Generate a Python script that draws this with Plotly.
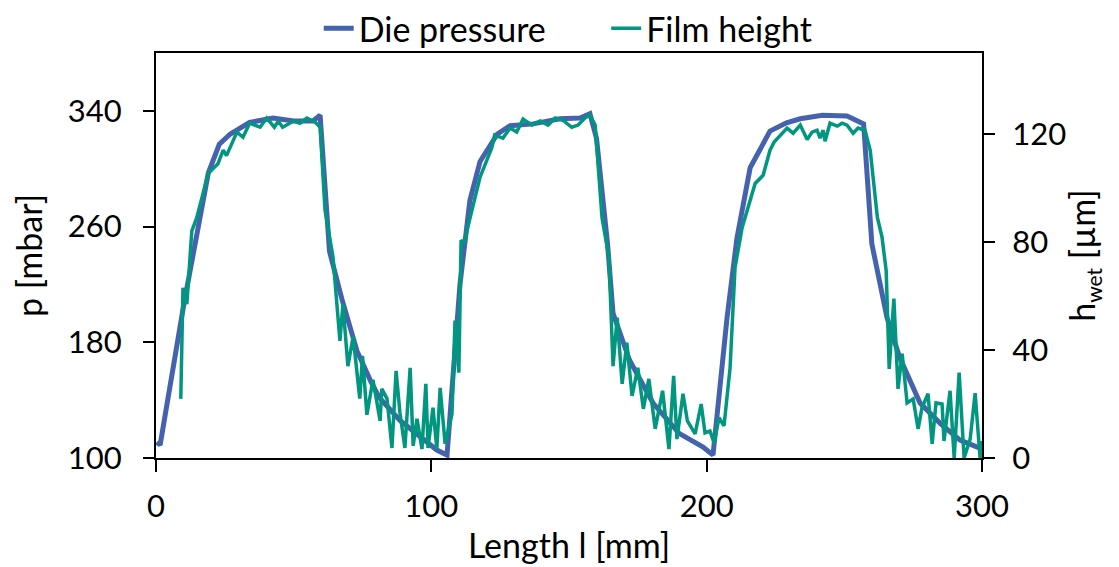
import plotly.graph_objects as go

# Die pressure (left axis, mbar)
x_p = [0.3, 1.5, 10, 19, 23, 27, 34, 42.5, 50, 57, 59.6, 63, 67.5, 73, 78, 81, 88.6, 96, 102, 105.7,
       110.4, 114, 117.7, 124, 128.6, 137, 146.7, 154, 157.6, 160, 164, 166, 172, 180.5, 190, 198.7,
       202.3, 207.4, 211, 215.8, 223, 229, 234, 242, 251, 257, 260, 265.5, 270, 277.5, 284.8, 292, 299]
p = [111, 109, 205, 297, 317, 324, 332, 335, 333, 333, 337, 243, 210, 174, 153, 142, 126, 114.5, 105.5, 102,
     220, 278, 305, 324, 329.7, 331, 334.5, 335, 338, 321, 248, 200, 167.6, 138, 117, 107.6,
     102, 197, 252, 300.7, 326, 331.7, 334.5, 337, 336.5, 331, 248, 197, 170, 138, 124, 112.4, 107]

# Film height (right axis, µm)
x_h = [9, 9.8, 11.2, 13, 14.8, 19, 22.5, 24.4, 25.6, 29.4,
       31.6, 34, 37.8, 40.2, 43, 44.4, 46, 50, 52.3, 54.8,
       57.8, 59.6, 61.4, 64.3, 66.8, 67.9, 69.7, 71.6, 74, 75,
       76.6, 78.8, 81.4, 82, 83.9, 85.7, 87.2, 88.6, 90.4, 92.3,
       93.4, 94.8, 96.6, 98, 98.8, 100.6, 102, 103.2, 105, 107.5,
       108.6, 110, 110.8, 111.9, 115, 117.7, 122, 123, 126, 128.6,
       131, 133.3, 136.6, 139.5, 142.4, 145, 147.8, 151, 153.3, 155.8,
       157.6, 159.5, 162, 164.5, 166, 167.5, 169.3, 171, 172.9, 175,
       177, 179, 181.3, 184, 186.3, 188, 189.2, 191.4, 193, 195.8,
       198, 199.4, 201.2, 202.7, 204.5, 206.3, 208.5, 210.3, 212.9, 215.8,
       217.6, 220.5, 223, 224.5, 227.8, 229.2, 231.4, 234, 236.5, 238.3,
       240.1, 241.2, 242.3, 243, 244.8, 247.4, 249.2, 251, 253.2, 255,
       257.5, 259.4, 262, 263.7, 265.2, 266.3, 268, 269.5, 271, 272.8,
       275, 276.8, 278.2, 280.4, 281.9, 283.3, 285.5, 286.2, 288.4, 289.9,
       291.7, 293.5, 295.7, 297.5, 299.3, 300]
h = [21.9, 63, 57, 84, 89, 105.5, 109, 114, 112, 120.7,
     118.8, 124, 122.5, 125.9, 122.5, 124.8, 122.5, 124.8, 124, 125.9,
     124.4, 122.5, 91.7, 74.3, 43.4, 57, 34, 45, 22, 37.8,
     16, 29, 13.7, 25.6, 22, 3.7, 32.3, 16.7, 3.7, 33.4,
     4.5, 14.5, 3.3, 27.5, 3.7, 18.6, 3.3, 26, 5.2, 16.3,
     50.9, 31.6, 80.6, 79.8, 92.8, 104, 115, 119.6, 118.5, 122.2,
     120.7, 125.5, 123.3, 124.8, 123.3, 125.9, 125.1, 122.5, 123.3, 125.9,
     127, 123.3, 89, 74.3, 34, 52, 27.5, 42.7, 23, 33.4,
     18.2, 29.3, 10.8, 24.9, 3.3, 30.4, 7, 23.8, 13.7, 8.9,
     20, 9.3, 10, 5.6, 14.9, 11.9, 33.4, 70.6, 85.4, 95.4,
     101.7, 104.7, 114, 117, 120.7, 122.2, 120.3, 123.3, 118, 120.7,
     121.4, 118.5, 121.4, 117.3, 124, 122.9, 124, 123.3, 120.3, 122.2,
     121.4, 114, 89.1, 81.7, 69.4, 33, 59, 25.6, 38.6, 20.4,
     21.9, 10.8, 18.6, 23.8, 5.2, 20.4, 20, 6.3, 24.9, 0,
     31.6, 0, 7, 24, 0, 6.3]

assert len(x_p) == len(p)
assert len(x_h) == len(h)

x_ticks = [0, 100, 200, 300]
p_ticks = [100, 180, 260, 340]
h_ticks = [0, 40, 80, 120]

FONT = "Lato"
FS_TICK = 31
FS_TEXT = 34

# the page body adds an 8 px offset, so the figure is sized for that
W, H = 1111, 559

fig = go.Figure()
fig.add_trace(go.Scatter(x=x_p, y=p, name="Die pressure", mode="lines", legend="legend",
                         line=dict(color="#4462AE", width=5)))
fig.add_trace(go.Scatter(x=x_h, y=h, name="Film height", mode="lines", yaxis="y2", legend="legend2",
                         line=dict(color="#00967F", width=3.5)))

axis_common = dict(showline=True, linecolor="black", linewidth=2, ticks="outside",
                   tickcolor="black", tickwidth=2, showgrid=False, zeroline=False,
                   automargin=False,
                   tickfont=dict(family=FONT, size=FS_TICK, color="black"))

legend_common = dict(orientation="h", yref="container", y=0.963, yanchor="middle",
                     xanchor="left", font=dict(family=FONT, size=FS_TEXT, color="black"),
                     bgcolor="rgba(0,0,0,0)")

fig.update_layout(
    width=W, height=H,
    margin=dict(l=148, r=137, t=45, b=109, autoexpand=False),
    paper_bgcolor="white", plot_bgcolor="white",
    font=dict(family=FONT, size=FS_TEXT, color="black"),
    showlegend=True,
    legend=dict(x=0.197, **legend_common),
    legend2=dict(x=0.545, **legend_common),
    xaxis=dict(range=[0, 300], tickvals=x_ticks, ticklen=12, mirror=True,
               ticklabelstandoff=8,
               title=dict(text="Length l [mm]", font=dict(family=FONT, size=FS_TEXT), standoff=11),
               **axis_common),
    yaxis=dict(range=[100, 380], tickvals=p_ticks, ticklen=11, ticklabelstandoff=15,
               title=dict(text="p [mbar]", font=dict(family=FONT, size=FS_TEXT), standoff=15),
               **axis_common),
    yaxis2=dict(range=[0, 150], tickvals=h_ticks, ticklen=11, overlaying="y", side="right",
                ticklabelstandoff=11,
                title=dict(text="h<sub><span style='font-size:21px'>wet</span></sub> [µm]",
                           font=dict(family=FONT, size=FS_TEXT), standoff=6),
                **axis_common),
)

fig.write_html("out.html")
